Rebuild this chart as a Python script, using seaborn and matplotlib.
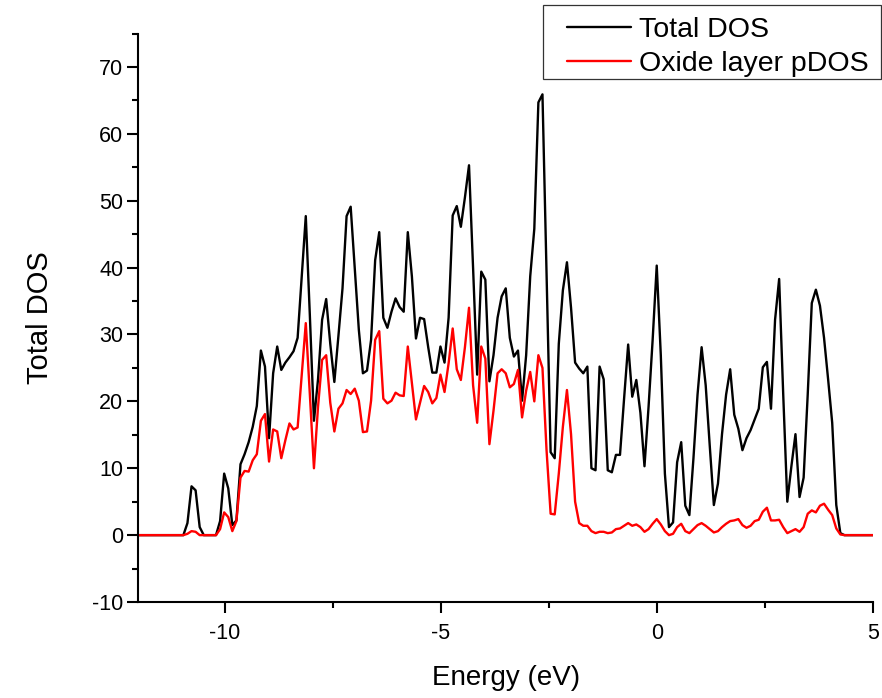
import numpy as np
import pandas as pd
import matplotlib
matplotlib.use("Agg")
import matplotlib.pyplot as plt
import seaborn as sns
from matplotlib.patches import Rectangle
from matplotlib.ticker import MultipleLocator

# ---------------- data ----------------
# DOS sampled on a uniform energy grid from -12 eV to 5 eV (181 points)
energy = np.linspace(-12, 5, 181)

total_dos = [
    0, 0, 0, 0, 0, 0, 0, 0, 0, 0, 0, 0,
    1.8, 7.3, 6.7, 1.2, 0, 0, 0, 0, 2.1, 9.2,
    7.0, 1.5, 2.2, 10.6, 12.1, 13.9, 16.2, 19.3, 27.6, 25.2,
    14.5, 24.2, 28.2, 24.7, 25.8, 26.6, 27.5, 29.5, 38.7, 47.7,
    32.8, 17.1, 23.3, 32.2, 35.3, 28.6, 22.9, 29.8, 36.9, 47.7,
    49.1, 39.9, 30.7, 24.2, 24.6, 29.2, 41.1, 45.3, 32.5, 31.0,
    33.4, 35.4, 34.1, 33.4, 45.3, 38.7, 29.4, 32.5, 32.3, 28.1,
    24.3, 24.3, 28.2, 25.8, 32.5, 47.8, 49.2, 46.1, 50.5, 55.3,
    39.9, 24.0, 39.4, 38.2, 23.0, 26.9, 32.5, 35.7, 36.9, 29.5,
    26.7, 27.6, 20.1, 26.9, 38.7, 45.8, 64.7, 65.9, 39.3, 12.4,
    11.5, 28.6, 36.6, 40.8, 34.0, 25.8, 24.9, 24.2, 25.2, 10.0,
    9.7, 25.2, 23.3, 9.7, 9.4, 12.0, 12.0, 20.4, 28.5, 20.7,
    23.2, 18.3, 10.3, 19.2, 29.2, 40.3, 26.9, 9.2, 1.2, 1.9,
    10.9, 13.9, 4.4, 3.0, 11.5, 21.0, 28.1, 22.4, 13.3, 4.5,
    7.7, 15.1, 21.0, 24.8, 18.0, 15.9, 12.7, 14.5, 15.7, 17.3,
    18.9, 25.1, 25.9, 18.9, 32.2, 38.3, 21.0, 5.0, 10.3, 15.1,
    5.7, 8.6, 21.0, 34.7, 36.7, 34.3, 29.5, 23.3, 16.8, 4.5,
    0.3, 0,
    0, 0, 0, 0, 0, 0, 0,
]

oxide_pdos = [
    0, 0, 0, 0, 0, 0, 0, 0, 0, 0, 0, 0,
    0.2, 0.6, 0.5, 0, 0, 0, 0, 0, 0.9, 3.4,
    2.7, 0.6, 2.1, 8.6, 9.6, 9.5, 11.2, 12.1, 17.1, 18.1,
    11.0, 15.8, 15.5, 11.5, 14.2, 16.7, 15.8, 16.1, 23.9, 31.7,
    21.0, 10.0, 19.2, 26.2, 26.9, 19.8, 15.5, 18.9, 19.7, 21.7,
    21.1, 21.9, 20.1, 15.4, 15.5, 20.1, 29.2, 30.5, 20.4, 19.7,
    20.1, 21.3, 20.9, 20.8, 28.2, 22.7, 17.3, 19.8, 22.3, 21.4,
    19.7, 20.5, 24.0, 21.4, 25.7, 30.9, 24.8, 23.2, 28.1, 34.0,
    22.4, 16.8, 28.2, 26.4, 13.6, 18.6, 24.2, 24.8, 24.2, 22.1,
    22.6, 24.7, 17.6, 21.6, 24.4, 20.0, 26.9, 25.0, 12.7, 3.2,
    3.1, 9.2, 16.2, 21.7, 15.1, 5.0, 1.8, 1.4, 1.4, 0.6,
    0.3, 0.5, 0.5, 0.3, 0.4, 0.9, 1.0, 1.4, 1.8, 1.4,
    1.6, 1.2, 0.5, 0.9, 1.7, 2.4, 1.6, 0.6, 0, 0.2,
    1.2, 1.7, 0.6, 0.3, 0.9, 1.5, 1.8, 1.4, 0.9, 0.4,
    0.6, 1.2, 1.7, 2.1, 2.2, 2.4, 1.5, 1.1, 1.4, 2.1,
    2.3, 3.5, 4.1, 2.2, 2.2, 2.3, 1.2, 0.3, 0.6, 0.9,
    0.5, 1.2, 3.2, 3.7, 3.4, 4.4, 4.7, 3.8, 3.0, 1.0,
    0.1, 0,
    0, 0, 0, 0, 0, 0, 0,
]

series_names = ["Total DOS", "Oxide layer pDOS"]
series_colors = ["#000000", "#ff0000"]

df = pd.concat([
    pd.DataFrame({"Energy": energy, "DOS": total_dos, "series": series_names[0]}),
    pd.DataFrame({"Energy": energy, "DOS": oxide_pdos, "series": series_names[1]}),
], ignore_index=True)

# ---------------- style ----------------
sns.set_style("ticks")
plt.rcParams["font.family"] = ["Liberation Sans", "DejaVu Sans"]
plt.rcParams["axes.unicode_minus"] = False
plt.rcParams["text.color"] = "black"
plt.rcParams["axes.labelcolor"] = "black"
plt.rcParams["xtick.color"] = "black"
plt.rcParams["ytick.color"] = "black"

fig = plt.figure(figsize=(8.82, 6.98), dpi=100)
ax = fig.add_axes([0.157, 0.1375, 0.8328, 0.8145])

sns.lineplot(data=df, x="Energy", y="DOS", hue="series",
             hue_order=series_names, palette=dict(zip(series_names, series_colors)),
             linewidth=1.7, ax=ax, legend=False, sort=True, estimator=None)

ax.set_xlim(-12, 5)
ax.set_ylim(-10, 75)
ax.xaxis.set_major_locator(MultipleLocator(5))
ax.xaxis.set_minor_locator(MultipleLocator(2.5))
ax.yaxis.set_major_locator(MultipleLocator(10))
ax.yaxis.set_minor_locator(MultipleLocator(5))

for s in ["top", "right"]:
    ax.spines[s].set_visible(False)
for s in ["left", "bottom"]:
    ax.spines[s].set_linewidth(1.5)
    ax.spines[s].set_color("black")

ax.tick_params(axis="both", which="major", direction="out", length=8,
               width=1.5, labelsize=15.5, colors="black", labelcolor="black")
ax.tick_params(axis="both", which="minor", direction="out", length=4.5,
               width=1.5, colors="black")
ax.tick_params(axis="x", which="major", pad=7)
ax.tick_params(axis="y", which="major", pad=3)

ax.set_xlabel("Energy (eV)", fontsize=20, labelpad=15, color="black")
ax.set_ylabel("Total DOS", fontsize=21, labelpad=27, color="black")

# legend
handles = [plt.Line2D([], [], color=c, lw=1.7) for c in series_colors]
leg = fig.legend(handles, series_names, loc="center left",
                 bbox_to_anchor=(567 / 882, 1 - 47 / 698),
                 frameon=False, fontsize=20.5, handlelength=2.25,
                 handletextpad=0.28, labelspacing=0.3, borderpad=0,
                 borderaxespad=0)
for t in leg.get_texts():
    t.set_color("black")
fig.add_artist(Rectangle((543 / 882, 1 - 79 / 698), 1 - 543 / 882 - 0.0012,
                         74 / 698, transform=fig.transFigure, fill=False,
                         edgecolor="#333333", linewidth=0.9))

fig.savefig("out.png", dpi=100)
